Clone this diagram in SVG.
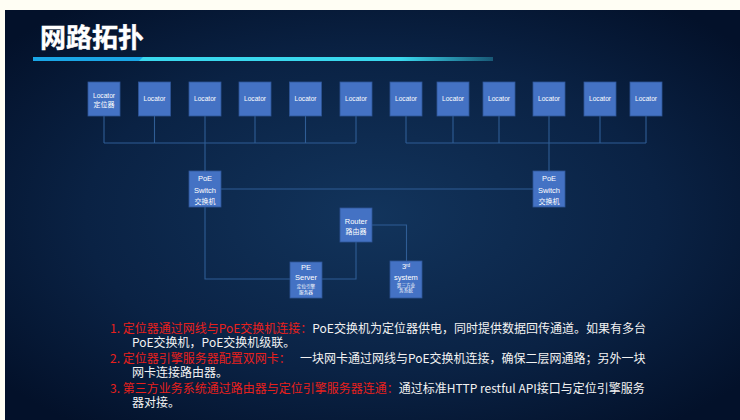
<svg xmlns="http://www.w3.org/2000/svg" width="740" height="420" viewBox="0 0 740 420">
<defs>
<radialGradient id="bg" cx="0.5" cy="0.5" r="0.65">
<stop offset="0" stop-color="#12345c"/>
<stop offset="0.6" stop-color="#0a2244"/>
<stop offset="1" stop-color="#03112a"/>
</radialGradient>
<linearGradient id="bar" x1="0" y1="0" x2="1" y2="0">
<stop offset="0" stop-color="#3ad8ee"/>
<stop offset="0.8" stop-color="#3ad8ee"/>
<stop offset="1" stop-color="#3ad8ee" stop-opacity="0.3"/>
</linearGradient>
<style>
.box{fill:#4472c4;stroke:#2f5597;stroke-width:0.8}
.ln{fill:none;stroke:#2f5d95;stroke-width:1.1}
.bt{fill:#ffffff;font-family:"Liberation Sans","Noto Sans CJK SC",sans-serif;font-size:7.5px;text-anchor:middle}
.bc{fill:#ffffff;font-family:"Noto Sans CJK SC",sans-serif;font-size:7px;text-anchor:middle}
.sc{fill:#ffffff;font-family:"Noto Sans CJK SC",sans-serif;font-size:4.6px;text-anchor:middle}
.tx{font-family:"Noto Sans CJK SC","Liberation Sans",sans-serif;font-size:12px}
.r{fill:#e8201c}
.w{fill:#f2f2f2}
</style>
</defs>
<rect x="0" y="0" width="740" height="420" fill="#fffef4"/>
<rect x="5" y="10" width="735" height="410" fill="url(#bg)"/>
<text x="40" y="47" font-family="Noto Sans CJK SC,sans-serif" font-size="26" font-weight="bold" fill="#ffffff" stroke="#ffffff" stroke-width="0.4">网路拓扑</text>
<rect x="33" y="57" width="460" height="4" fill="url(#bar)"/>
<polygon points="33,57 143,57 139,61 33,61" fill="#1aa6e6"/>

<g id="connectors">
<path class="ln" d="M104 116V143M154.5 116V143M205 116V143M255 116V143M305.5 116V143M356 116V143M104 143H356M205 143V171"/>
<path class="ln" d="M406 116V143M453 116V143M499 116V143M549 116V143M600 116V143M646 116V143M406 143H646M549 143V171"/>
<path class="ln" d="M221 189H533"/>
<path class="ln" d="M205 207V279H290"/>
<path class="ln" d="M356 242V279H322"/>
<path class="ln" d="M372 225H406.5V261"/>
</g>

<g id="loc1"><rect class="box" x="88" y="82" width="32" height="34"/><text class="bt" x="104" y="97.5" textLength="22" lengthAdjust="spacingAndGlyphs">Locator</text><text class="bc" x="104" y="106.5" font-size="6">定位器</text></g>
<g id="loc2"><rect class="box" x="138.5" y="82" width="32" height="34"/><text class="bt" x="154.5" y="101" textLength="22" lengthAdjust="spacingAndGlyphs">Locator</text></g>
<g id="loc3"><rect class="box" x="189" y="82" width="32" height="34"/><text class="bt" x="205" y="101" textLength="22" lengthAdjust="spacingAndGlyphs">Locator</text></g>
<g id="loc4"><rect class="box" x="239" y="82" width="32" height="34"/><text class="bt" x="255" y="101" textLength="22" lengthAdjust="spacingAndGlyphs">Locator</text></g>
<g id="loc5"><rect class="box" x="289.5" y="82" width="32" height="34"/><text class="bt" x="305.5" y="101" textLength="22" lengthAdjust="spacingAndGlyphs">Locator</text></g>
<g id="loc6"><rect class="box" x="340" y="82" width="32" height="34"/><text class="bt" x="356" y="101" textLength="22" lengthAdjust="spacingAndGlyphs">Locator</text></g>
<g id="loc7"><rect class="box" x="390" y="82" width="32" height="34"/><text class="bt" x="406" y="101" textLength="22" lengthAdjust="spacingAndGlyphs">Locator</text></g>
<g id="loc8"><rect class="box" x="437" y="82" width="32" height="34"/><text class="bt" x="453" y="101" textLength="22" lengthAdjust="spacingAndGlyphs">Locator</text></g>
<g id="loc9"><rect class="box" x="483" y="82" width="32" height="34"/><text class="bt" x="499" y="101" textLength="22" lengthAdjust="spacingAndGlyphs">Locator</text></g>
<g id="loc10"><rect class="box" x="533" y="82" width="32" height="34"/><text class="bt" x="549" y="101" textLength="22" lengthAdjust="spacingAndGlyphs">Locator</text></g>
<g id="loc11"><rect class="box" x="584" y="82" width="32" height="34"/><text class="bt" x="600" y="101" textLength="22" lengthAdjust="spacingAndGlyphs">Locator</text></g>
<g id="loc12"><rect class="box" x="630" y="82" width="32" height="34"/><text class="bt" x="646" y="101" textLength="22" lengthAdjust="spacingAndGlyphs">Locator</text></g>

<g id="switch1"><rect class="box" x="189" y="171" width="32" height="36"/><text class="bt" x="205" y="180.5">PoE</text><text class="bt" x="205" y="192.5">Switch</text><text class="bc" x="205" y="203.5">交换机</text></g>
<g id="switch2"><rect class="box" x="533" y="171" width="32" height="36"/><text class="bt" x="549" y="180.5">PoE</text><text class="bt" x="549" y="192.5">Switch</text><text class="bc" x="549" y="203.5">交换机</text></g>
<g id="router"><rect class="box" x="340" y="208" width="32" height="34"/><text class="bt" x="356" y="223.5">Router</text><text class="bc" x="356" y="233.5">路由器</text></g>
<g id="peserver"><rect class="box" x="290" y="262" width="32" height="36"/><text class="bt" x="306" y="269.5">PE</text><text class="bt" x="306" y="279.5">Server</text><text class="sc" x="306" y="287.5">定位引擎</text><text class="sc" x="306" y="293.5">服务器</text></g>
<g id="thirdsys"><rect class="box" x="390" y="261" width="32" height="37"/><text class="bt" x="406" y="269">3<tspan font-size="4.5" dy="-2.5">rd</tspan></text><text class="bt" x="406" y="279.5">system</text><text class="sc" x="406" y="286.5">第三方业</text><text class="sc" x="406" y="292">务系统</text></g>

<g id="notes" class="tx">
<text x="110" y="333"><tspan class="r">1. 定位器通过网线与PoE交换机连接：</tspan><tspan class="w">PoE交换机为定位器供电，同时提供数据回传通道。如果有多台</tspan></text>
<text class="w" x="132" y="347">PoE交换机，PoE交换机级联。</text>
<text x="110" y="363"><tspan class="r">2. 定位器引擎服务器配置双网卡：</tspan><tspan class="w" x="300">一块网卡通过网线与PoE交换机连接，确保二层网通路；另外一块</tspan></text>
<text class="w" x="132" y="377">网卡连接路由器。</text>
<text x="110" y="393"><tspan class="r">3. 第三方业务系统通过路由器与定位引擎服务器连通：</tspan><tspan class="w">通过标准HTTP restful API接口与定位引擎服务</tspan></text>
<text class="w" x="132" y="407">器对接。</text>
</g>
</svg>
